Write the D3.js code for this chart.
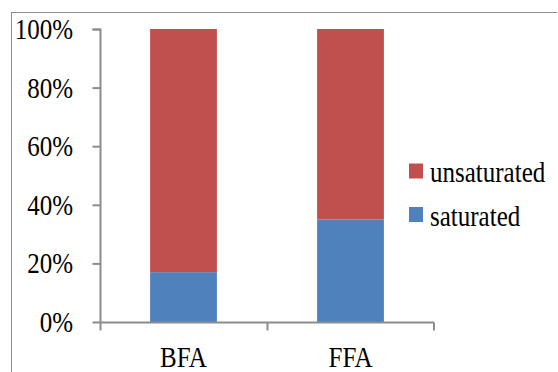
<!DOCTYPE html>
<html><head><meta charset="utf-8">
<script src="https://cdn.jsdelivr.net/npm/d3@7"></script>
</head><body style="margin:0">
<svg id="c" width="558" height="372" style="display:block;font-family:'Liberation Serif'"></svg>
<script>
const categories = ["BFA", "FFA"];
const saturated = [17, 35];
const unsaturated = [83, 65];
const seriesNames = ["saturated", "unsaturated"];
const seriesColors = ["#4f81bd", "#c0504d"];
const yTicks = [0, 20, 40, 60, 80, 100];

const svg = d3.select("#c");
const gray = "#8c8c8c";
const fs = 25;
const sy = 1.15;

function label(g, x, y, txt, anchor) {
  return g.append("text")
    .attr("transform", `translate(${x},${y}) scale(1,${sy})`)
    .attr("text-anchor", anchor || "start")
    .style("font-family", "'Liberation Serif'")
    .style("font-size", fs + "px")
    .text(txt);
}

// frame
svg.append("line").attr("x1", 11.5).attr("x2", 557).attr("y1", 12.5).attr("y2", 12.5).attr("stroke", gray).attr("stroke-width", 1);
svg.append("line").attr("x1", 11.5).attr("x2", 11.5).attr("y1", 12).attr("y2", 372).attr("stroke", gray).attr("stroke-width", 1);

const x = d3.scaleBand().domain(categories).range([100, 434]).paddingInner(0.6).paddingOuter(0.3);
const y = d3.scaleLinear().domain([0, 100]).range([322, 29]);

const data = categories.map((c, i) => ({cat: c, saturated: saturated[i], unsaturated: unsaturated[i]}));
const stack = d3.stack().keys(seriesNames)(data);

svg.append("g").selectAll("g").data(stack).join("g")
  .attr("fill", (d, i) => seriesColors[i])
  .selectAll("rect").data(d => d).join("rect")
  .attr("x", d => x(d.data.cat))
  .attr("width", x.bandwidth())
  .attr("y", d => y(d[1]))
  .attr("height", d => y(d[0]) - y(d[1]));

// y axis (ticks from the library, labels drawn below)
const ya = svg.append("g").attr("transform", "translate(100.5,0)")
  .call(d3.axisLeft(y).tickValues(yTicks).tickFormat("").tickSize(8));
ya.attr("font-family", null).attr("font-size", null);
ya.selectAll("text").remove();
ya.select(".domain").attr("stroke", gray).attr("stroke-width", 2).attr("d", "M-8,29.5H0V322.5");
ya.selectAll(".tick line").attr("stroke", gray).attr("stroke-width", 2);
const yl = svg.append("g");
yTicks.forEach(t => label(yl, 73, y(t) + 10, t + "%", "end"));

// x axis
const xa = svg.append("g").attr("transform", "translate(0,322.5)");
xa.append("line").attr("x1", 100).attr("x2", 434).attr("stroke", gray).attr("stroke-width", 2);
[100.5, 267.5, 434].forEach(t => xa.append("line").attr("x1", t).attr("x2", t).attr("y1", 0).attr("y2", 8).attr("stroke", gray).attr("stroke-width", 2));
const xl = svg.append("g");
categories.forEach(c => label(xl, x(c) + x.bandwidth() / 2, 367, c, "middle"));

// legend
const legendOrder = [1, 0];
const lg = svg.append("g");
legendOrder.forEach((si, k) => {
  const yy = 163.5 + k * 43.5;
  lg.append("rect").attr("x", 409).attr("y", yy).attr("width", 14).attr("height", 15).attr("fill", seriesColors[si]);
  label(lg, 430, yy + 18.5, seriesNames[si]);
});
</script>
</body></html>
